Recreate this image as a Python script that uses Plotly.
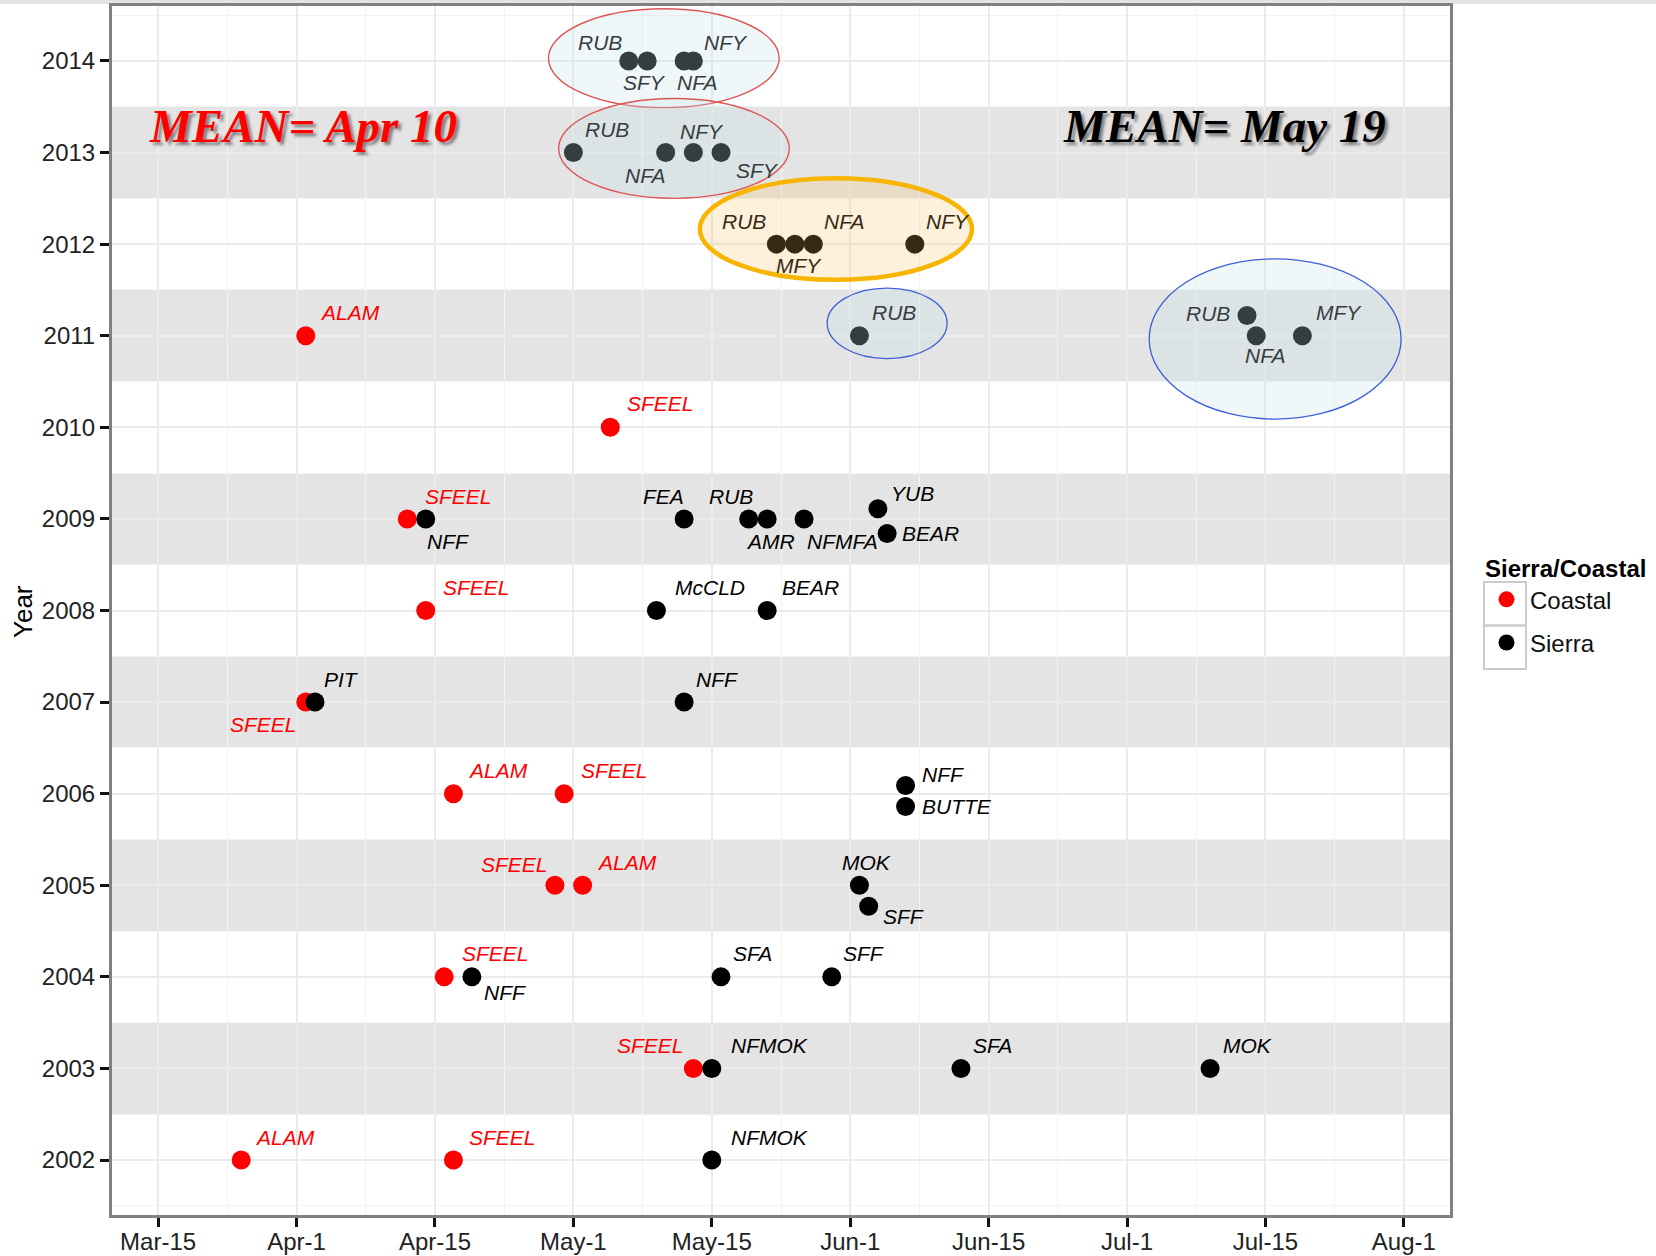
import plotly.graph_objects as go

# ---------------------------------------------------------------
# Onset dates (day of year) by year, split by site type
# ---------------------------------------------------------------
coastal_site = ["ALAM", "SFEEL", "SFEEL", "SFEEL", "SFEEL", "ALAM", "SFEEL",
                "SFEEL", "ALAM", "SFEEL", "SFEEL", "ALAM", "SFEEL"]
coastal_day = [91, 124, 102, 104, 91, 107, 119, 118, 121, 106, 133, 84, 107]
coastal_year = [2011, 2010, 2009, 2008, 2007, 2006, 2006, 2005, 2005, 2004,
                2003, 2002, 2002]

sierra_site = ["RUB", "SFY", "NFA", "NFY",
               "RUB", "NFA", "NFY", "SFY",
               "RUB", "MFY", "NFA", "NFY",
               "RUB", "RUB", "NFA", "MFY",
               "NFF", "FEA", "RUB", "AMR", "NFMFA", "YUB", "BEAR",
               "McCLD", "BEAR",
               "PIT", "NFF",
               "NFF", "BUTTE",
               "MOK", "SFF",
               "NFF", "SFA", "SFF",
               "NFMOK", "SFA", "MOK",
               "NFMOK"]
sierra_day = [126, 128, 132, 133,
              120, 130, 133, 136,
              142, 144, 146, 157,
              151, 193, 194, 199,
              104, 132, 139, 141, 145, 153, 154,
              129, 141,
              92, 132,
              156, 156,
              151, 152,
              109, 136, 148,
              135, 162, 189,
              135]
sierra_year = [2014, 2014, 2014, 2014,
               2013, 2013, 2013, 2013,
               2012, 2012, 2012, 2012,
               2011, 2011.22, 2011, 2011,
               2009, 2009, 2009, 2009, 2009, 2009.11, 2008.84,
               2008, 2008,
               2007, 2007,
               2006.09, 2005.86,
               2005, 2004.77,
               2004, 2004, 2004,
               2003, 2003, 2003,
               2002]

# Axis ticks: 15-day steps of day-of-year
tick_days = [75, 90, 105, 120, 135, 150, 165, 180, 195, 210]
tick_text = ["Mar-15", "Apr-1", "Apr-15", "May-1", "May-15", "Jun-1",
             "Jun-15", "Jul-1", "Jul-15", "Aug-1"]
year_ticks = list(range(2002, 2015))

mean_labels = ["MEAN= Apr 10", "MEAN= May 19"]

# ---------------------------------------------------------------
# Label placement (pixel offsets from each point; anchor side)
# ---------------------------------------------------------------
coastal_lab_dx = [12.4, 14.8, 15.7, 15.7, -6.7, 12.2, 15.3, -5.1, 12.7, 15.8,
                  -7.2, 11.6, 13.7]
coastal_lab_dy = [23.4, 23.8, 22.5, 23.0, -22.3, 23.2, 23.2, 20.8, 23.2, 23.0,
                  22.8, 22.3, 22.3]
coastal_lab_anchor = ["left", "left", "left", "left", "right", "left", "left",
                      "right", "left", "left", "right", "left", "left"]

sierra_lab_dx = [-4.6, -26.4, -8.7, 8.6,
                 9.7, 1.1, -14.9, 13.2,
                 -8.6, -21.3, 9.1, 9.2,
                 10.3, -14.9, -13.2, 11.5,
                 -0.4, 2.3, 5.8, -23.2, 1.3, 11.2, 12.9,
                 16.1, 12.5,
                 7.3, 9.9,
                 14.3, 14.3,
                 -19.9, 12.7,
                 10.2, 9.7, 9.7,
                 17.4, 9.7, 11.4,
                 16.8]
sierra_lab_dy = [18.4, -21.6, -21.6, 18.4,
                 23.3, -22.5, 21.3, -18.4,
                 22.5, -21.7, 22.5, 22.5,
                 22.9, 1.7, -20.0, 23.4,
                 -22.8, 22.7, 22.7, -22.8, -22.8, 15.8, 0.0,
                 23.0, 23.0,
                 23.0, 23.0,
                 10.7, 0.0,
                 23.2, -10.6,
                 -15.3, 23.0, 23.0,
                 22.8, 22.8, 22.8,
                 22.3]
sierra_lab_anchor = ["right", "left", "left", "left",
                     "left", "right", "left", "left",
                     "right", "left", "left", "left",
                     "left", "right", "left", "left",
                     "left", "right", "right", "left", "left", "left", "left",
                     "left", "left",
                     "left", "left",
                     "left", "left",
                     "left", "left",
                     "left", "left", "left",
                     "left", "left", "left",
                     "left"]

# Highlight ellipses around groups of late sites (bounding boxes in data units)
ellipses = [
    dict(x0=117.3, x1=142.3, y0=2013.49, y1=2014.57, line="#dd5555", width=1.4,
         fill=(200, 225, 232), alpha=0.27),
    dict(x0=118.4, x1=143.4, y0=2012.50, y1=2013.59, line="#dd5555", width=1.4,
         fill=(200, 225, 232), alpha=0.27),
    dict(x0=133.7, x1=163.2, y0=2011.61, y1=2012.72, line="#f7b500", width=4.5,
         fill=(250, 190, 90), alpha=0.22),
    dict(x0=147.5, x1=160.5, y0=2010.75, y1=2011.52, line="#3f5fd8", width=1.3,
         fill=(200, 225, 232), alpha=0.27),
    dict(x0=182.4, x1=209.7, y0=2010.09, y1=2011.84, line="#3f5fd8", width=1.3,
         fill=(200, 225, 232), alpha=0.27),
]

X_RANGE = [70.0, 215.0]
Y_RANGE = [2001.4, 2014.6]
PX_PER_DAY = 1338 / (X_RANGE[1] - X_RANGE[0])
PX_PER_YEAR = 1209 / (Y_RANGE[1] - Y_RANGE[0])


def hex_to_rgb(h):
    h = h.lstrip("#")
    return tuple(int(h[i:i + 2], 16) for i in (0, 2, 4))


def tinted(base_hex, x, y, dx, dy):
    """Colour of a label after the translucent ellipses drawn over it."""
    r, g, b = hex_to_rgb(base_hex)
    lx = x + dx / PX_PER_DAY
    ly = y + dy / PX_PER_YEAR
    for e in ellipses:
        cx, cy = (e["x0"] + e["x1"]) / 2, (e["y0"] + e["y1"]) / 2
        rx, ry = (e["x1"] - e["x0"]) / 2, (e["y1"] - e["y0"]) / 2
        if ((x - cx) / rx) ** 2 + ((y - cy) / ry) ** 2 <= 1 or \
           ((lx - cx) / rx) ** 2 + ((ly - cy) / ry) ** 2 <= 1:
            a = e["alpha"]
            fr, fg, fb = e["fill"]
            r = r * (1 - a) + fr * a
            g = g * (1 - a) + fg * a
            b = b * (1 - a) + fb * a
    return "rgb(%d,%d,%d)" % (round(r), round(g), round(b))


fig = go.Figure()

fig.add_trace(go.Scatter(
    x=coastal_day, y=coastal_year, mode="markers", name="Coastal",
    legendgroup="c", text=coastal_site,
    marker=dict(color="#ff0000", size=19, line=dict(width=0)),
))
fig.add_trace(go.Scatter(
    x=sierra_day, y=sierra_year, mode="markers", name="Sierra",
    legendgroup="s", text=sierra_site,
    marker=dict(color="#000000", size=19, line=dict(width=0)),
))

shapes = []
# alternating grey bands behind odd years
for yr in range(2003, 2014, 2):
    shapes.append(dict(type="rect", xref="paper", yref="y", x0=0, x1=1,
                       y0=yr - 0.5, y1=yr + 0.5, fillcolor="#e4e4e4",
                       line=dict(width=0), layer="between"))
# translucent ellipses
for e in ellipses:
    fr, fg, fb = e["fill"]
    shapes.append(dict(type="circle", xref="x", yref="y",
                       x0=e["x0"], x1=e["x1"], y0=e["y0"], y1=e["y1"],
                       fillcolor="rgba(%d,%d,%d,%.2f)" % (fr, fg, fb, e["alpha"]),
                       line=dict(color=e["line"], width=e["width"]),
                       layer="above"))
# thin grey strip along the top of the page
shapes.append(dict(type="rect", xref="paper", yref="paper",
                   x0=-112 / 1338, x1=(1656 - 112) / 1338,
                   y0=(1215 - 4) / 1209, y1=(1215 + 6) / 1209,
                   fillcolor="#e3e3e3", line=dict(width=0), layer="below"))
# legend key boxes
for k in range(2):
    top = 582 + k * 43.5
    shapes.append(dict(type="rect", xref="paper", yref="paper",
                       x0=(1484 - 112) / 1338, x1=(1526 - 112) / 1338,
                       y0=(1215 - top - 43.5) / 1209, y1=(1215 - top) / 1209,
                       fillcolor="rgba(0,0,0,0)",
                       line=dict(color="#cccccc", width=2), layer="below"))

annotations = []
label_font = "Liberation Sans, Arial, sans-serif"
for i, s in enumerate(coastal_site):
    annotations.append(dict(
        x=coastal_day[i], y=coastal_year[i], xref="x", yref="y", text=s,
        showarrow=False, xanchor=coastal_lab_anchor[i], yanchor="middle",
        xshift=coastal_lab_dx[i], yshift=coastal_lab_dy[i],
        font=dict(family=label_font, size=21, style="italic",
                  color=tinted("#ff0000", coastal_day[i], coastal_year[i],
                               coastal_lab_dx[i], coastal_lab_dy[i]))))
for i, s in enumerate(sierra_site):
    annotations.append(dict(
        x=sierra_day[i], y=sierra_year[i], xref="x", yref="y", text=s,
        showarrow=False, xanchor=sierra_lab_anchor[i], yanchor="middle",
        xshift=sierra_lab_dx[i], yshift=sierra_lab_dy[i],
        font=dict(family=label_font, size=21, style="italic",
                  color=tinted("#000000", sierra_day[i], sierra_year[i],
                               sierra_lab_dx[i], sierra_lab_dy[i]))))

# mean onset call-outs
mean_font = "Liberation Serif, Times New Roman, serif"
for text, xp, col in [(mean_labels[0], (303 - 112) / 1338, "#ff0000"),
                      (mean_labels[1], (1224.5 - 112) / 1338, "#000000")]:
    annotations.append(dict(
        x=xp, y=(1215 - 126) / 1209, xref="paper", yref="paper", text=text,
        showarrow=False, xanchor="center", yanchor="middle",
        font=dict(family=mean_font, size=47, color=col, weight="bold",
                  style="italic", shadow="3px 3px 3px rgba(0,0,0,0.45)")))

# y-axis title
annotations.append(dict(
    x=(23 - 112) / 1338, y=(1215 - 612) / 1209, xref="paper", yref="paper",
    text="Year", textangle=-90, showarrow=False, xanchor="center",
    yanchor="middle", font=dict(family=label_font, size=26, color="#000000")))

fig.update_layout(
    width=1656, height=1256,
    margin=dict(l=112, r=206, t=6, b=41, autoexpand=False),
    paper_bgcolor="white", plot_bgcolor="white",
    font=dict(family=label_font, size=24, color="#222222"),
    shapes=shapes, annotations=annotations,
    showlegend=True,
    legend=dict(
        title=dict(text="<b>Sierra/Coastal</b>",
                   font=dict(size=24, color="#000000")),
        x=(1483 - 112) / 1338, y=(1215 - 546) / 1209,
        xanchor="left", yanchor="top",
        font=dict(size=24, color="#111111"),
        itemwidth=37, tracegroupgap=9, bgcolor="rgba(0,0,0,0)",
    ),
)

fig.update_xaxes(
    range=X_RANGE, tickmode="array", tickvals=tick_days, ticktext=tick_text,
    showgrid=True, gridcolor="#ebebeb", gridwidth=2, zeroline=False,
    showline=True, mirror=True, linecolor="#808080", linewidth=3,
    ticks="outside", ticklen=9, tickwidth=3, tickcolor="#111111",
    tickfont=dict(size=24, color="#222222"), ticklabelstandoff=-6,
    minor=dict(tick0=82.5, dtick=15, showgrid=True, gridcolor="#f3f3f3",
               gridwidth=1, ticks=""),
)
fig.update_yaxes(
    range=Y_RANGE, tickmode="array", tickvals=year_ticks,
    ticktext=[str(y) for y in year_ticks],
    showgrid=True, gridcolor="#ebebeb", gridwidth=2, zeroline=False,
    showline=True, mirror=True, linecolor="#808080", linewidth=3,
    ticks="outside", ticklen=9, tickwidth=3, tickcolor="#111111",
    tickfont=dict(size=24, color="#222222"),
    minor=dict(tick0=2001.5, dtick=1, showgrid=True, gridcolor="#f3f3f3",
               gridwidth=1, ticks=""),
)

fig.write_html("out.html")
